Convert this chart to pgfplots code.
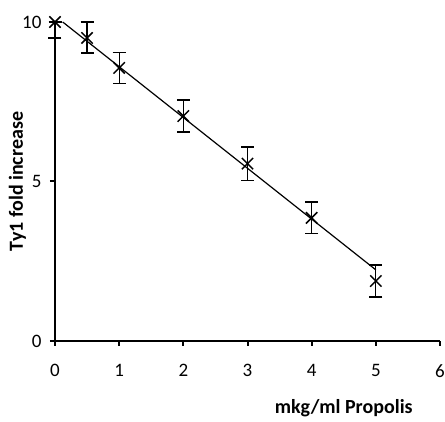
\documentclass[border=0pt]{standalone}
\usepackage{pgfplots}
\pgfplotsset{compat=1.18}
\usepackage{fontspec}
\setmainfont{Carlito}
\begin{document}
\begin{tikzpicture}
\begin{axis}[
  at={(55pt,81pt)}, anchor=origin,
  scale only axis, width=385pt, height=319pt,
  xmin=0, xmax=6, ymin=0, ymax=10,
  axis x line*=bottom, axis y line*=left,
  axis line style={line width=2.2pt, black},
  xtick={0,1,2,3,4,5,6}, ytick={0,5,10},
  tick align=outside, major tick length=5pt,
  tick style={line width=2pt, black},
  clip=false,
  /pgf/number format/assume math mode=true,
  ticklabel style={font=\fontsize{19}{19}\selectfont},
  xticklabel style={yshift=-15pt},
  yticklabel style={xshift=-5pt},
  xlabel={\textbf{mkg/ml Propolis}},
  ylabel={\textbf{Ty1 fold increase}},
  label style={font=\fontsize{20}{20}\selectfont},
  x label style={at={(axis description cs:0.75,-0.172)}, anchor=north},
  y label style={at={(axis description cs:-0.066,0.5)}, anchor=south},
]
\addplot[only marks, mark=x, mark size=8pt, mark options={line width=1.5pt, black},
  error bars/.cd, y dir=both, y explicit,
  error bar style={line width=1.3pt, black},
  error mark options={rotate=90, mark size=6.5pt, line width=1.3pt, black}]
  table[x=x, y=y, y error plus=ep, y error minus=em] {
x y ep em
0 10.0 0 0.5
0.5 9.5 0.5 0.47
1 8.56 0.49 0.49
2 7.05 0.5 0.5
3 5.56 0.52 0.52
4 3.86 0.5 0.5
5 1.88 0.5 0.5
};
\addplot[black, line width=1.2pt, no marks] coordinates {(0.12,10.0) (5,2.23)};
\end{axis}
\pgfresetboundingbox
\useasboundingbox (0,0) rectangle (445pt,422pt);
\end{tikzpicture}
\end{document}
